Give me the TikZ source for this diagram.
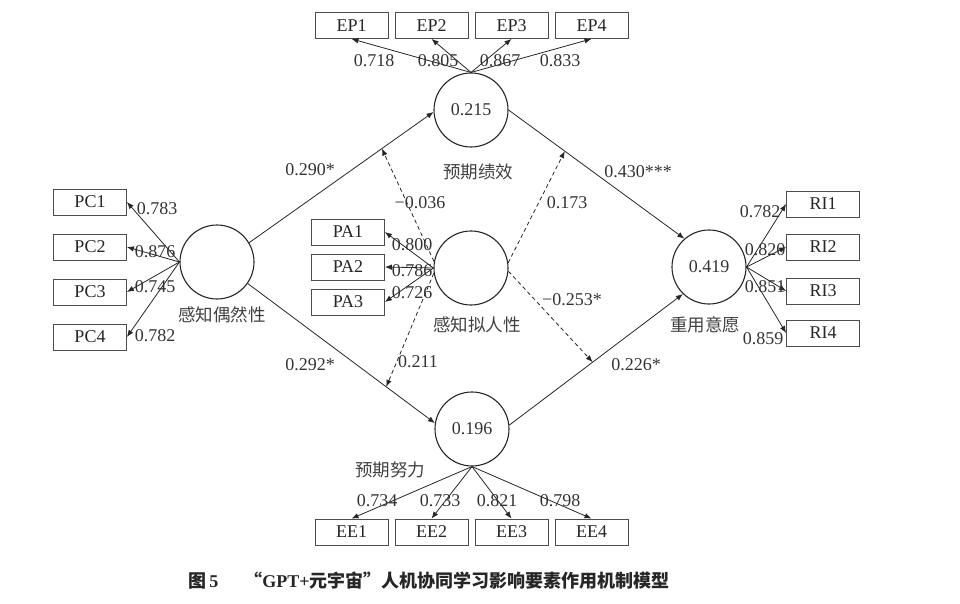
\documentclass[tikz,border=0pt]{standalone}
\usepackage{fontspec}
\setmainfont{Liberation Serif}
\newfontfamily\cjk{Noto Sans CJK SC}
\usetikzlibrary{arrows.meta}
\tikzset{
 sem latent/.style={circle,draw=black!85,line width=1.1pt,minimum size=74pt,
                    inner sep=0pt,text=black!80,font=\fontsize{18}{20}\selectfont},
 sem item/.style={rectangle,draw=black!70,line width=0.8pt,minimum width=73pt,
                  minimum height=26pt,inner sep=0pt,text=black!85,
                  font=\fontsize{18}{20}\selectfont},
 sem load/.style={-{Latex[length=7pt,width=5.5pt]},line width=0.8pt,black!85},
 sem mod/.style={sem load,dash pattern=on 4pt off 3pt},
 sem coef/.style={font=\fontsize{18}{20}\selectfont,inner sep=1pt,text=black!80},
 sem name/.style={font=\cjk\fontsize{17.5}{20}\selectfont,inner sep=1pt,text=black!75}
}

\begin{document}
\begin{tikzpicture}[x=1pt,y=-1pt]
 \useasboundingbox (0,0) rectangle (960,604);
 % latent variables
 \node[sem latent] (pc) at (217,262) {};
 \node[sem latent] (ep) at (471,110) {0.215};
 \node[sem latent] (pa) at (471,268) {};
 \node[sem latent] (ee) at (472,429) {0.196};
 \node[sem latent] (ri) at (709,267) {0.419};
 \node[sem name] (pcname) at (222,315) {感知偶然性};
 \node[sem name] (epname) at (478,172) {预期绩效};
 \node[sem name] (paname) at (477,325) {感知拟人性};
 \node[sem name] (eename) at (390,470) {预期努力};
 \node[sem name] (riname) at (705,325) {重用意愿};

 % indicators
 \foreach \i/\x in {1/351.5,2/431.5,3/511.5,4/591.5} {
   \node[sem item] (ep\i) at (\x,25.5) {EP\i};
   \node[sem item] (ee\i) at (\x,532) {EE\i};
 }
 \foreach \i/\y in {1/202,2/247,3/292,4/337}
   \node[sem item] (pc\i) at (90,\y) {PC\i};
 \foreach \i/\y in {1/232,2/267,3/302}
   \node[sem item] (pa\i) at (348,\y) {PA\i};
 \foreach \i/\y in {1/204,2/247,3/291,4/333}
   \node[sem item] (ri\i) at (823,\y) {RI\i};

 % loadings
 \foreach \i in {1,...,4} {
   \draw[sem load] (ep.north) -- (ep\i.south);
   \draw[sem load] (ee.south) -- (ee\i.north);
   \draw[sem load] (pc.west) -- (pc\i.east);
   \draw[sem load] (ri.east) -- (ri\i.west);
 }
 \foreach \i in {1,...,3}
   \draw[sem load] (pa.west) -- (pa\i.east);
 \node[sem coef] (lep1) at (374,61) {0.718};
 \node[sem coef] (lep2) at (438,61) {0.805};
 \node[sem coef] (lep3) at (500,61) {0.867};
 \node[sem coef] (lep4) at (560,61) {0.833};
 \node[sem coef] (lee1) at (377,501) {0.734};
 \node[sem coef] (lee2) at (440,501) {0.733};
 \node[sem coef] (lee3) at (497,501) {0.821};
 \node[sem coef] (lee4) at (560,501) {0.798};
 \node[sem coef] (lpc1) at (157,209) {0.783};
 \node[sem coef] (lpc2) at (155,252) {0.876};
 \node[sem coef] (lpc3) at (155,287) {0.745};
 \node[sem coef] (lpc4) at (155,336) {0.782};
 \node[sem coef] (lpa1) at (412,245) {0.800};
 \node[sem coef] (lpa2) at (412,271) {0.786};
 \node[sem coef] (lpa3) at (412,293) {0.726};
 \node[sem coef] (lri1) at (760,212) {0.782};
 \node[sem coef] (lri2) at (765,250) {0.820};
 \node[sem coef] (lri3) at (765,287) {0.851};
 \node[sem coef] (lri4) at (763,339) {0.859};

 % structural paths
 \draw[sem load] (pc.31) -- coordinate[pos=.72] (m1) (ep.183);
 \draw[sem load] (ep.0) -- coordinate[pos=.32] (m2) (ri.131);
 \draw[sem load] (pc.325) -- coordinate[pos=.74] (m3) (ee.171);
 \draw[sem load] (ee.6) -- coordinate[pos=.48] (m4) (ri.226);
 \node[sem coef] (cpcep) at (310,170) {0.290*};
 \node[sem coef] (cepri) at (638,172) {0.430***};
 \node[sem coef] (cpcee) at (310,365) {0.292*};
 \node[sem coef] (ceeri) at (636,365) {0.226*};

 % moderation by pa
 \draw[sem mod] (pa.170) -- (m1);
 \draw[sem mod] (pa.8) -- (m2);
 \draw[sem mod] (pa.188) -- (m3);
 \draw[sem mod] (pa.-5) -- (m4);
 \node[sem coef] (mpc1) at (420,203) {−0.036};
 \node[sem coef] (mpc2) at (567,203) {0.173};
 \node[sem coef] (mpc3) at (418,362) {0.211};
 \node[sem coef] (mpc4) at (572,300) {−0.253*};

 \node[font=\fontsize{18}{20}\selectfont,text=black!85] (caption) at (429,581)
   {{\cjk\bfseries 图}\,{\bfseries 5}\hspace{26pt}{\cjk\bfseries “}{\bfseries GPT+}{\cjk\bfseries 元宇宙”人机协同学习影响要素作用机制模型}};
\end{tikzpicture}
\end{document}
